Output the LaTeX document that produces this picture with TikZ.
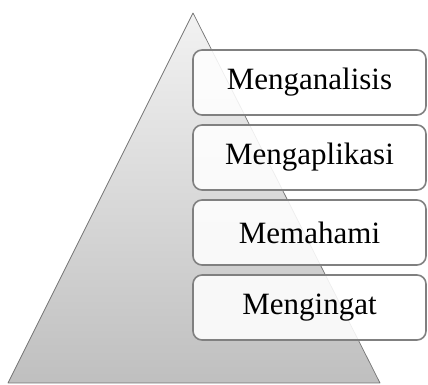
\documentclass[tikz,border=0pt]{standalone}
\usepackage{fontspec}
\setmainfont{Liberation Serif}
\begin{document}
\begin{tikzpicture}[x=1pt,y=1pt,
  level/.style={draw=black!50, line width=1.6pt, rounded corners=9pt,
    fill=white, fill opacity=0.88, text opacity=1,
    minimum width=233pt, minimum height=65pt, inner sep=0pt,
    font=\fontsize{31}{36}\selectfont, text=black}]
\useasboundingbox (0,0) rectangle (428,385);
\coordinate (apex) at (193,372);
\coordinate (bl) at (8,2);
\coordinate (br) at (380,2);
\shade[top color=black!5, bottom color=black!25] (apex) -- (br) -- (bl) -- cycle;
\draw[black!55, line width=0.7pt, line join=round] (apex) -- (br) -- (bl) -- cycle;
\node[level] (n1) at (309.5,302.5) {Menganalisis};
\node[level] (n2) at (309.5,227.5) {Mengaplikasi};
\node[level] (n3) at (309.5,152.5) {Memahami};
\node[level] (n4) at (309.5,77.5) {Mengingat};
\end{tikzpicture}
\end{document}
